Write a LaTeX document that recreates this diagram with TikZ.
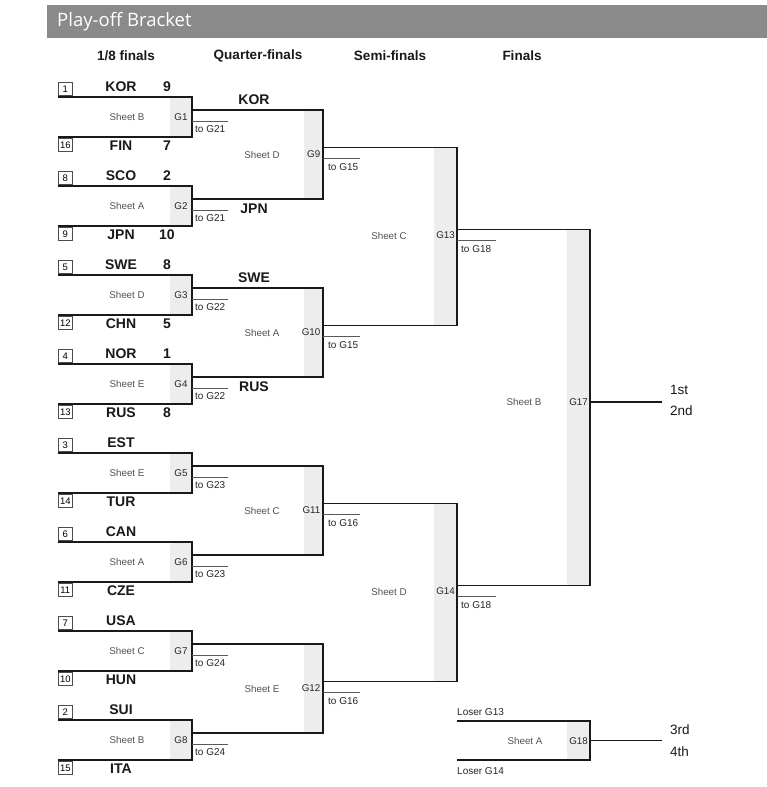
\documentclass[tikz,border=0pt]{standalone}
\usepackage{fontspec}
\setmainfont{Liberation Sans}
\newfontfamily\titlefont{Open Sans}
\begin{document}
\begin{tikzpicture}[x=1pt,y=-1pt,
  br/.style={line width=1.7pt, draw=black!90, line join=miter},
  tol/.style={line width=0.9pt, draw=black!65},
  gbox/.style={fill=black!7},
  team/.style={font=\bfseries\fontsize{14}{16}\selectfont, text=black!90, inner sep=0pt},
  head/.style={font=\bfseries\fontsize{13.5}{16}\selectfont, text=black!90, inner sep=0pt},
  sheet/.style={font=\fontsize{9.8}{11}\selectfont, text=black!68, inner sep=0pt},
  glab/.style={font=\fontsize{9.8}{11}\selectfont, text=black!85, inner sep=0pt},
  tolab/.style={font=\fontsize{10}{12}\selectfont, text=black!85, anchor=west, inner sep=0pt},
  place/.style={font=\fontsize{13.5}{16}\selectfont, text=black!90, anchor=west, inner sep=0pt},
  loser/.style={font=\fontsize{10}{12}\selectfont, text=black!85, anchor=west, inner sep=0pt},
  seed/.style={draw=black!70, line width=0.6pt, minimum width=14pt, minimum height=13pt, inner sep=0pt, font=\fontsize{9.5}{10}\selectfont}
]
\useasboundingbox (0,0) rectangle (767,787);
\fill[white] (0,0) rectangle (767,787);
% title bar
\fill[black!46] (47,5) rectangle (767,38);
\node[anchor=west, text=white, font=\titlefont\fontsize{18.5}{22}\selectfont, inner sep=0pt] (title) at (57,21.5) {Play-off Bracket};
% headers
\node[head] (h1) at (126,56) {1/8 finals};
\node[head] (h2) at (258,56) {Quarter-finals};
\node[head] (h3) at (390,56) {Semi-finals};
\node[head] (h4) at (522,56) {Finals};

% ---------- gray game boxes (quarter, semi, final) ----------
\fill[gbox] (304,110) rectangle (323,199);
\fill[gbox] (304,288) rectangle (323,377);
\fill[gbox] (304,466) rectangle (323,555);
\fill[gbox] (304,644) rectangle (323,733);
\fill[gbox] (434,147.5) rectangle (457,325.5);
\fill[gbox] (434,503.5) rectangle (457,681.5);
\fill[gbox] (567,229.5) rectangle (590,585.5);
\fill[gbox] (567,721) rectangle (590,760);

% ---------- 1/8 finals ----------
\foreach \i/\t/\g/\sh/\sa/\ta/\ca/\sb/\tb/\cb/\to in {
  1/97/G1/Sheet B/1/KOR/9/16/FIN/7/G21,
  2/186/G2/Sheet A/8/SCO/2/9/JPN/10/G21,
  3/275/G3/Sheet D/5/SWE/8/12/CHN/5/G22,
  4/364/G4/Sheet E/4/NOR/1/13/RUS/8/G22,
  5/453/G5/Sheet E/3/EST//14/TUR//G23,
  6/542/G6/Sheet A/6/CAN//11/CZE//G23,
  7/631/G7/Sheet C/7/USA//10/HUN//G24,
  8/720/G8/Sheet B/2/SUI//15/ITA//G24}
{
  \fill[gbox] (170,\t) rectangle (192,\t+40);
  \coordinate (r\i a) at (58,\t);
  \coordinate (r\i b) at (58,\t+40);
  \coordinate (r\i c) at (192,\t);
  \coordinate (r\i d) at (192,\t+40);
  \coordinate (w\i) at (192,\t+13);
  \coordinate (t\i a) at (192,\t+24);
  \coordinate (t\i b) at (228,\t+24);
  \draw[br] (r\i a) -- (r\i c) -- (r\i d) -- (r\i b);
  \draw[tol] (t\i a) -- (t\i b);
  \node[tolab] (tl\i) at (195,\t+32.5) {to \to};
  \node[seed, anchor=south west] (sa\i) at (58,\t-1) {\sa};
  \node[seed, anchor=north west] (sb\i) at (58,\t+41) {\sb};
  \node[team] (ta\i) at (121,\t-10.5) {\ta};
  \node[team] (tb\i) at (121,\t+48.5) {\tb};
  \node[team] (ca\i) at (167,\t-10.5) {\ca};
  \node[team] (cb\i) at (167,\t+48.5) {\cb};
  \node[sheet] (sh\i) at (127,\t+20) {\sh};
  \node[glab] (g\i) at (181,\t+20) {\g};
}

% ---------- quarter-finals ----------
\foreach \q/\a/\b/\top/\g/\sh/\to in {
  1/1/2/110/G9/Sheet D/G15,
  2/3/4/288/G10/Sheet A/G15,
  3/5/6/466/G11/Sheet C/G16,
  4/7/8/644/G12/Sheet E/G16}
{
  \coordinate (q\q a) at (323,\top);
  \coordinate (q\q b) at (323,\top+89);
  \coordinate (qw\q) at (323,\top+37.5);
  \coordinate (qt\q a) at (323,\top+48.5);
  \coordinate (qt\q b) at (360,\top+48.5);
  \draw[br] (w\a) -- (q\q a) -- (q\q b) -- (w\b);
  \draw[tol] (qt\q a) -- (qt\q b);
  \node[tolab] (qtl\q) at (328,\top+57) {to \to};
  \node[sheet] (qs\q) at (262,\top+44.5) {\sh};
  \node[glab, anchor=east] (qg\q) at (320.5,\top+44.5) {\g};
}
\node[team] (qn1) at (254,100) {KOR};
\node[team] (qn2) at (254,209) {JPN};
\node[team] (qn3) at (254,278) {SWE};
\node[team] (qn4) at (254,387) {RUS};

% ---------- semi-finals ----------
\foreach \s/\a/\b/\top/\g/\sh in {
  1/1/2/147.5/G13/Sheet C,
  2/3/4/503.5/G14/Sheet D}
{
  \coordinate (s\s a) at (457,\top);
  \coordinate (s\s b) at (457,\top+178);
  \coordinate (sw\s) at (457,\top+82);
  \coordinate (st\s a) at (457,\top+93);
  \coordinate (st\s b) at (496,\top+93);
  \draw[br] (qw\a) -- (s\s a) -- (s\s b) -- (qw\b);
  \draw[tol] (st\s a) -- (st\s b);
  \node[tolab] (stl\s) at (461,\top+101.5) {to G18};
  \node[sheet] (ss\s) at (389,\top+88) {\sh};
  \node[glab, anchor=east] (sg\s) at (455,\top+88) {\g};
}

% ---------- final G17 ----------
\coordinate (fa) at (590,229.5);
\coordinate (fb) at (590,585.5);
\coordinate (fw) at (590,402);
\coordinate (fe) at (662,402);
\draw[br] (sw1) -- (fa) -- (fb) -- (sw2);
\draw[br] (fw) -- (fe);
\node[sheet] (fs) at (524,402) {Sheet B};
\node[glab, anchor=east] (fg) at (588,402) {G17};
\node[place] (p1) at (670,390) {1st};
\node[place] (p2) at (670,411) {2nd};

% ---------- bronze G18 ----------
\coordinate (ba) at (457,721);
\coordinate (bb) at (590,721);
\coordinate (bc) at (590,760);
\coordinate (bd) at (457,760);
\coordinate (bw) at (590,740.5);
\coordinate (be) at (662,740.5);
\draw[br] (ba) -- (bb) -- (bc) -- (bd);
\draw[br] (bw) -- (be);
\node[sheet] (bs) at (525,741) {Sheet A};
\node[glab, anchor=east] (bg) at (588,741) {G18};
\node[loser] (l1) at (457,712) {Loser G13};
\node[loser] (l2) at (457,771) {Loser G14};
\node[place] (p3) at (670,730) {3rd};
\node[place] (p4) at (670,752) {4th};
\end{tikzpicture}
\end{document}
